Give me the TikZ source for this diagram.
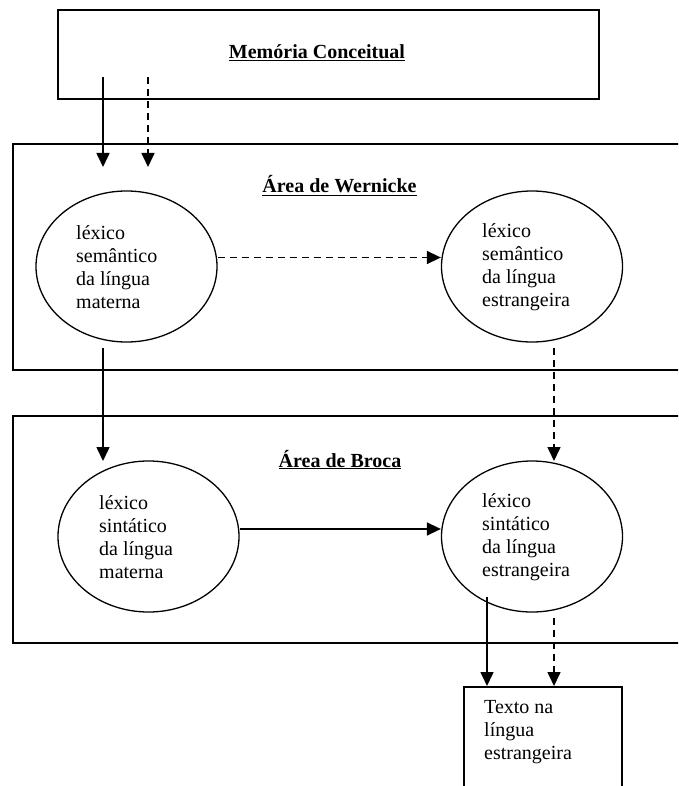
\documentclass[tikz,border=0pt]{standalone}
\usepackage{fontspec}
\setmainfont{Liberation Serif}
\usetikzlibrary{shapes.geometric,arrows.meta}
\begin{document}
\begin{tikzpicture}[x=1pt,y=-1pt,
  box/.style={draw,line width=1.5pt,inner sep=0pt},
  lex/.style={draw,ellipse,line width=1.3pt,minimum width=181pt,minimum height=151pt,inner sep=0pt},
  txt/.style={font=\fontsize{20}{23}\selectfont,align=left,anchor=west,inner sep=0pt},
  ttl/.style={font=\fontsize{20}{23}\selectfont\bfseries,anchor=base,inner sep=0pt},
  arr/.style={line width=1.6pt,-{Triangle[length=14pt,width=13pt]}},
  darr/.style={arr,dash pattern=on 7pt off 5pt}
]
\useasboundingbox (0,0) rectangle (678,786);
\clip (0,0) rectangle (678,786);
% boxes
\node[box,minimum width=541pt,minimum height=89pt] (mem) at (328.5,54.5) {};
\node[box,minimum width=687pt,minimum height=226pt] (wer) at (356.5,257) {};
\node[box,minimum width=687pt,minimum height=227pt] (bro) at (356.5,529.5) {};
\node[box,minimum width=158pt,minimum height=113pt] (out) at (543,743.5) {};
% titles
\node[ttl] (memt) at (317,59) {\underline{Memória Conceitual}};
\node[ttl] (wert) at (339.5,193) {\underline{Área de Wernicke}};
\node[ttl] (brot) at (340,467) {\underline{Área de Broca}};
% ellipses
\node[lex] (e1) at (126.5,266.5) {};
\node[lex] (e2) at (532,266.5) {};
\node[lex] (e3) at (148.5,536.5) {};
\node[lex] (e4) at (532,536.5) {};
\node[txt] (t1) at (76,267) {léxico\\semântico\\da língua\\materna};
\node[txt] (t2) at (482,267) {léxico\\semântico\\da língua\\estrangeira};
\node[txt] (t3) at (99,537) {léxico\\sintático\\da língua\\materna};
\node[txt] (t4) at (482,537) {léxico\\sintático\\da língua\\estrangeira};
\node[txt] (t5) at (484,732) {Texto na\\língua\\estrangeira};
% connector end points
\coordinate (m1) at (103,77);
\coordinate (w1) at (103,167);
\coordinate (m2) at (148,77);
\coordinate (w2) at (148,167);
\coordinate (e1b) at (103,348);
\coordinate (e3t) at (103,461);
\coordinate (e2b) at (554,348);
\coordinate (e4t) at (554,461);
\coordinate (e4s) at (487,597);
\coordinate (o1) at (487,686);
\coordinate (e4d) at (554,618);
\coordinate (o2) at (554,686);
% connectors
\draw[arr] (m1) -- (w1);
\draw[darr] (m2) -- (w2);
\draw[darr] ([yshift=9pt]e1.east) -- ([yshift=9pt]e2.west);
\draw[arr] (e1b) -- (e3t);
\draw[darr] (e2b) -- (e4t);
\draw[arr] ([yshift=7.5pt]e3.east) -- ([yshift=7.5pt]e4.west);
\draw[arr] (e4s) -- (o1);
\draw[darr] (e4d) -- (o2);
\end{tikzpicture}
\end{document}
